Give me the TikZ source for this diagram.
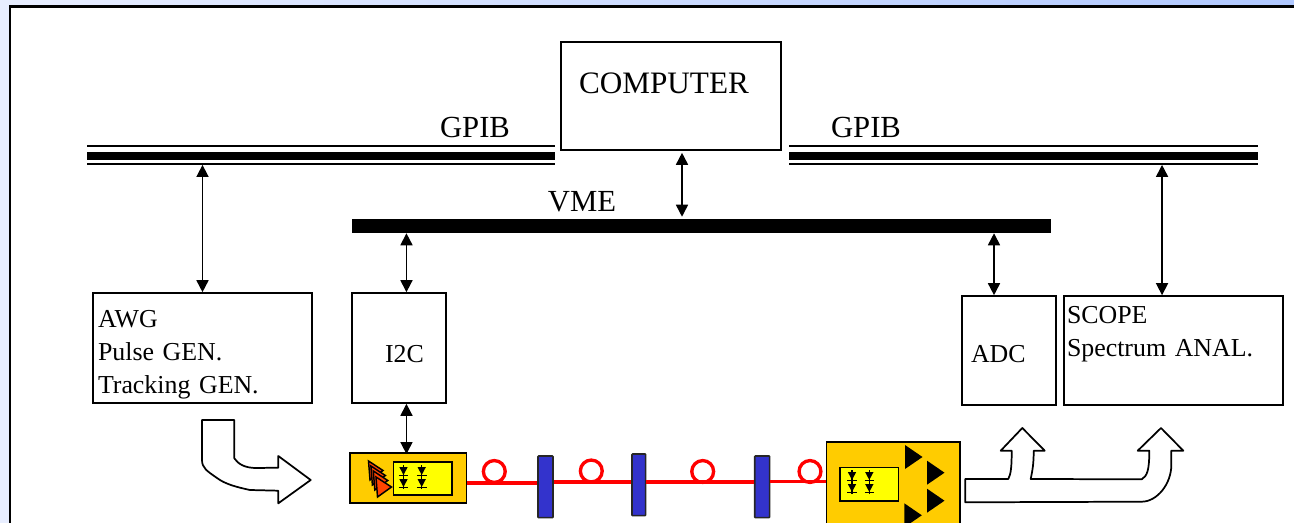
\documentclass[tikz,border=0pt]{standalone}
\usepackage{fontspec}
\setmainfont{Liberation Serif}
\usepackage{xcolor}
\definecolor{modcol}{RGB}{255,204,0}
\definecolor{chipcol}{RGB}{255,255,0}
\definecolor{fibrecol}{RGB}{255,0,0}
\definecolor{attcol}{RGB}{51,51,204}
\definecolor{lasercol}{RGB}{255,68,0}
\definecolor{bgleft}{RGB}{232,238,255}
\definecolor{bgright}{RGB}{176,200,255}
\usetikzlibrary{arrows.meta,positioning,calc}

\begin{document}
\begin{tikzpicture}[x=0.75pt,y=-0.75pt,
  boxi/.style={rectangle, draw=black, line width=1.2pt, fill=white, inner sep=0pt, align=left,
               font=\fontsize{19.4}{24.8}\selectfont},
  bus/.style={rectangle, fill=black, inner sep=0pt},
  lbl/.style={font=\fontsize{23}{28}\selectfont, inner sep=0pt},
  modu/.style={rectangle, draw=black, line width=1.2pt, fill=modcol, inner sep=0pt},
  chip/.style={rectangle, draw=black, line width=1.2pt, fill=chipcol, inner sep=0pt},
  att/.style={rectangle, rounded corners=0.5pt, draw=black!85, line width=1.2pt, fill=attcol, inner sep=0pt},
  arr/.style={{Triangle[length=9pt,width=9pt]}-{Triangle[length=9pt,width=9pt]}, line width=1.2pt},
  fibre/.style={draw=fibrecol, line width=3pt},
  bigarr/.style={draw=black, line width=1.3pt, fill=white, line join=round}
]
\useasboundingbox (0,0) rectangle (1294,523);
\clip (0,0) rectangle (1294,523);

%% background
\shade[left color=bgleft, right color=bgright] (0,0) rectangle (1294,523);
\draw[line width=1.6pt, fill=white] (10,6.5) rectangle (1310,540);

%% computer and buses
\node[boxi, minimum width=165pt, minimum height=81pt, inner xsep=13.5pt, text width=138pt, text depth=19.5pt,
      font=\fontsize{23.4}{28}\selectfont] (computer) at (671,96) {COMPUTER};

\node[bus, minimum width=351pt, minimum height=1.4pt] (gpiblt) at (321,146) {};
\node[bus, minimum width=351pt, minimum height=6.2pt] (gpibl)  at (321,156) {};
\node[bus, minimum width=351pt, minimum height=1.4pt] (gpiblb) at (321,163.7) {};
\node[bus, minimum width=351.75pt, minimum height=1.4pt] (gpibrt) at (1023.5,146) {};
\node[bus, minimum width=351.75pt, minimum height=6.2pt] (gpibr)  at (1023.5,156) {};
\node[bus, minimum width=351.75pt, minimum height=1.4pt] (gpibrb) at (1023.5,163.7) {};
\node[bus, minimum width=524.25pt, minimum height=10.5pt] (vme) at (701.5,226) {};

\node[lbl] (gpibltxt)  at (475,128) {GPIB};
\node[lbl] (gpibrtxt)  at (866,128) {GPIB};
\node[lbl] (vmetxt)    at (582,202) {VME};

%% instruments
\node[boxi, minimum width=164.25pt, minimum height=82.5pt, inner xsep=3.75pt, text width=156.75pt, text height=23.3pt]
      (awg) at (202.5,348) {AWG\\Pulse GEN.\\Tracking GEN.};
\node[boxi, minimum width=70.5pt, minimum height=82.5pt, inner xsep=24.75pt, text width=21pt, text height=22pt]
      (i2c) at (399,348) {I2C};
\node[boxi, minimum width=70.5pt, minimum height=81.75pt, inner xsep=6.75pt, text width=57pt, text height=18pt]
      (adc) at (1009,350.5) {ADC};
\node[boxi, minimum width=164.25pt, minimum height=81.75pt, inner xsep=2.25pt, text width=159.75pt, text depth=53.5pt]
      (scope) at (1173.5,350.5) {SCOPE\\Spectrum ANAL.};

%% fibre line
\node[modu, minimum width=87.5pt, minimum height=37.7pt] (txmod) at (408.3,478) {};
\node[modu, minimum width=100pt, minimum height=75pt] (rxmod) at (893.3,492) {};
\node[att, minimum width=11.2pt, minimum height=46.2pt] (att1) at (545.5,486.8) {};
\node[att, minimum width=10.2pt, minimum height=46.2pt] (att2) at (638.8,484.8) {};
\node[att, minimum width=11.2pt, minimum height=46.2pt] (att3) at (762.2,486.8) {};

\draw[fibre] (txmod.east |- 0,483.3) -- (att1.west |- 0,483.3);
\draw[fibre] (att1.east |- 0,482.3) -- (att2.west |- 0,482.3);
\draw[fibre] (att2.east |- 0,482.3) -- (att3.west |- 0,482.3);
\draw[fibre, line width=2.4pt] (att3.east |- 0,481.5) -- (rxmod.west |- 0,481.5);
\foreach \x/\y in {494.3/471.5, 591.3/471, 702.7/471.5, 810/471.5}
  \draw[fibrecol, line width=2.5pt] (\x,\y) circle (8.2pt);

%% transmitter
\foreach \i in {0,1,2}
  \draw[fill=lasercol, line width=1.1pt] ($(368.5,461)+(\i*2.4,\i*5)$) -- ++(14.5,9.5) -- ++(-13,9.5) -- cycle;
\draw[fill=lasercol, line width=1.1pt] (376,477) -- (391.5,487) -- (377.5,497) -- cycle;
\node[chip, minimum width=44pt, minimum height=24.5pt] (txchip) at (422.8,478.6) {};

%% receiver
\node[chip, minimum width=43.7pt, minimum height=25pt] (rxchip) at (869.2,484.3) {};
\foreach \x/\y in {905/445, 927/460.7, 927/488.7, 904.3/503.3}
  \fill[black] (\x,\y) -- ++(17.5,12) -- ++(-17.5,12) -- cycle;

%% diodes
\foreach \x/\y in {403.5/467, 403.5/479, 421.7/467, 421.7/479, 852/472, 852/484, 869.3/472, 869.3/484}
{
  \fill[black] (\x-4.2,\y) -- (\x+4.2,\y) -- (\x,\y+8) -- cycle;
  \draw[line width=1pt] (\x-4.8,\y+8.5) -- (\x+4.8,\y+8.5);
  \draw[line width=1pt] (\x,\y-2) -- (\x,\y+10);
}

%% connectors
\draw[arr] (awg.north) -- (awg.north |- gpiblb.south);
\draw[arr, shorten <=1.5pt, shorten >=1.5pt] ([xshift=8.25pt]computer.south) -- ([xshift=8.25pt]computer.south |- vme.north);
\draw[arr] ([xshift=5.6pt]i2c.north) -- ([xshift=5.6pt]i2c.north |- vme.south);
\draw[arr] ([xshift=-11.25pt]adc.north) -- ([xshift=-11.25pt]adc.north |- vme.south);
\draw[arr] ([xshift=-8.6pt]scope.north) -- ([xshift=-8.6pt]scope.north |- gpibrb.south);
\draw[arr, shorten >=-1.5pt] ([xshift=5.6pt]i2c.south) -- ([xshift=5.6pt]i2c.south |- txmod.north);

%% block arrows
\draw[bigarr] (202,420) -- (234.3,420) -- (234.3,458.3)
  .. controls (238,464) and (245,468) .. (256,468) -- (278.3,467.7) -- (278.3,456) -- (310.7,480)
  -- (278.3,503.3) -- (278.3,490.7) -- (250,490)
  .. controls (236,487) and (225,484) .. (217,478)
  .. controls (207,471) and (202,468) .. (202,460) -- cycle;

\draw[bigarr] (965.3,479) -- (1008.3,479)
  .. controls (1011,474) and (1011.7,466) .. (1011.7,450.7) -- (1000.7,450.7) -- (1022.3,428) -- (1044.7,450.7)
  -- (1033.7,450.7) .. controls (1033.7,466) and (1032,472) .. (1030.7,479)
  -- (1141.7,479.3) .. controls (1147,476) and (1149.3,471) .. (1149.3,450.7)
  -- (1137.7,450.7) -- (1161,428) -- (1183.3,450.7) -- (1171.3,450.7) -- (1171.3,465)
  .. controls (1171.3,484) and (1157,501.7) .. (1141.7,501.7) -- (965.3,502.3) -- cycle;
\end{tikzpicture}
\end{document}
